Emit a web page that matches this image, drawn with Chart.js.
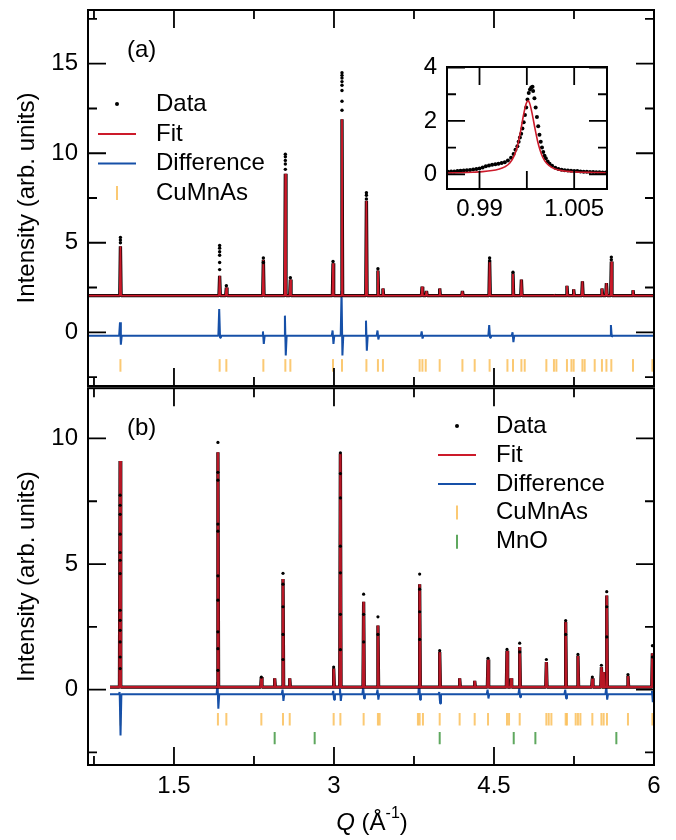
<!DOCTYPE html>
<html>
<head>
<meta charset="utf-8">
<script src="https://cdn.jsdelivr.net/npm/chart.js@4.4.0/dist/chart.umd.min.js"></script>
<style>
  body { margin: 0; background: #fff; width: 676px; height: 840px; position: relative; overflow: hidden; }
  canvas { position: absolute; }
</style>
</head>
<body>
<canvas id="chartA" width="676" height="395" style="left:0;top:0"></canvas>
<canvas id="chartB" width="676" height="460" style="left:0;top:380px"></canvas>
<canvas id="inset" width="212" height="184" style="left:400px;top:40px"></canvas>
<script>
// ---------- panel (a) ----------
const peakQA   = [0.998, 1.928, 1.991, 2.338, 2.544, 2.591, 2.991, 3.075, 3.304, 3.412, 3.459, 3.826, 3.867, 3.991, 4.204, 4.459, 4.678, 4.757, 5.062, 5.184, 5.247, 5.329, 5.512, 5.554, 5.600, 5.803];
const fitTopA  = [4.8, 3.15, 2.5, 4.05, 8.85, 2.95, 3.85, 11.9, 7.35, 3.45, 2.45, 2.55, 2.3, 2.45, 2.3, 4.0, 3.3, 2.95, 2.1, 2.6, 2.4, 2.85, 2.45, 2.75, 3.95, 2.35];
const dotQA = [0.998, 0.998, 0.998, 1.928, 1.928, 1.928, 1.928, 1.928, 1.928, 1.991, 2.338, 2.338,
               2.544, 2.544, 2.544, 2.544, 2.544, 2.591, 2.991,
               3.075, 3.075, 3.075, 3.075, 3.075, 3.075, 3.075, 3.075,
               3.304, 3.304, 3.304, 3.412, 4.459, 4.459, 4.678, 5.600, 5.600];
const dotIA = [5.3, 5.15, 5.0, 4.85, 4.7, 4.5, 4.3, 3.9, 3.5, 2.6, 4.15, 3.9,
               9.95, 9.8, 9.6, 9.4, 9.1, 3.05, 3.95,
               14.5, 14.35, 14.2, 14.0, 13.8, 13.5, 12.9, 12.4,
               7.8, 7.65, 7.45, 3.55, 4.15, 4.0, 3.35, 4.2, 4.05];
const diffQA    = [0.998, 1.928, 2.338, 2.544, 2.991, 3.075, 3.304, 3.412, 3.826, 4.459, 4.678, 5.600];
const diffUpA   = [0.56, 1.3, 0.05, 0.93, 0.1, 2.32, 0.65, 0.1, 0.05, 0.4, 0.0, 0.4];
const diffDownA = [-0.69, -0.3, -0.65, -1.3, -0.65, -1.3, -1.03, -0.4, -0.35, -0.3, -0.55, -0.25];
const braggA = [0.998, 1.928, 1.991, 2.338, 2.544, 2.591, 2.991, 3.075, 3.304, 3.412, 3.459, 3.803, 3.829, 3.860, 3.991,
                4.204, 4.319, 4.459, 4.626, 4.678, 4.757, 4.788, 4.991, 5.062, 5.085, 5.184, 5.226, 5.247, 5.329,
                5.350, 5.444, 5.512, 5.554, 5.600, 5.803, 5.985];
const yTicksA = [0, 5, 10, 15];

// ---------- panel (b) ----------
const peakQB  = [0.995, 1.912, 2.319, 2.444, 2.522, 2.585, 2.997, 3.060, 3.278, 3.412, 3.803, 3.991, 4.178, 4.319, 4.444, 4.622, 4.660, 4.741, 4.991, 5.172, 5.287, 5.422, 5.507, 5.528, 5.557, 5.756, 5.985];
const fitTopB = [9.1, 9.45, 0.5, 0.45, 4.4, 0.45, 0.85, 9.4, 3.5, 2.55, 4.2, 1.5, 0.45, 0.35, 1.2, 1.55, 0.45, 1.7, 1.1, 2.7, 1.35, 0.45, 0.9, 0.7, 3.75, 0.55, 1.45];
const dotQB = [0.995, 0.995, 0.995, 0.995, 0.995, 0.995, 0.995, 0.995, 0.995, 0.995, 0.995, 0.995, 0.995,
               1.912, 1.912, 1.912, 1.912, 1.912, 1.912, 1.912, 1.912, 1.912, 1.912,
               3.060, 3.060, 3.060, 3.060, 3.060, 3.060, 3.060,
               2.522, 2.522, 2.522, 2.522, 2.522, 3.803, 3.803, 3.803, 3.803,
               5.557, 5.557, 5.557, 3.278, 3.278, 3.278,
               2.319, 2.997, 3.412, 3.412, 3.991, 4.444, 4.622, 4.741, 4.741, 4.991, 5.172, 5.172, 5.287, 5.422, 5.507, 5.756, 5.985, 5.985];
const dotIB = [7.74, 7.34, 6.98, 6.19, 5.46, 5.15, 4.62, 3.16, 2.76, 2.36, 1.9, 1.3, 0.84,
               9.84, 8.65, 8.34, 6.59, 6.31, 4.53, 3.56, 2.3, 1.63, 0.77,
               9.43, 8.6, 7.63, 5.71, 4.65, 3.0, 1.59,
               4.63, 4.2, 3.3, 2.2, 1.2, 4.6, 4.0, 3.1, 2.0,
               3.9, 3.3, 2.1, 3.8, 3.0, 1.9,
               0.5, 0.9, 2.9, 2.2, 1.55, 1.25, 1.6, 1.85, 1.5, 1.2, 2.75, 2.2, 1.4, 0.5, 0.97, 0.6, 1.75, 1.3];
const diffQB    = [0.995, 1.912, 2.522, 2.997, 3.060, 3.278, 3.412, 3.803, 3.991, 4.444, 4.741, 5.172, 5.557, 5.985];
const diffUpB   = [-0.1, 0.3, 0.0, -0.05, 0.05, 0.1, 0.0, 0.4, -0.1, 0.0, 0.05, 0.0, 0.15, -0.05];
const diffDownB = [-1.82, -0.76, -0.45, -0.4, -0.45, -0.35, -0.4, -0.4, -0.55, -0.35, -0.3, -0.35, -0.4, -0.5];
const braggB = [0.998, 1.912, 1.991, 2.319, 2.522, 2.585, 2.997, 3.060, 3.278, 3.412, 3.428, 3.787, 3.803, 3.834, 3.991,
                4.178, 4.319, 4.444, 4.622, 4.641, 4.741, 4.991, 5.013, 5.038, 5.172, 5.184, 5.266, 5.287, 5.310,
                5.422, 5.507, 5.528, 5.559, 5.756, 5.985];
const braggMnO = [2.444, 2.819, 3.991, 4.685, 4.888, 5.647];
const yTicksB = [0, 5, 10];
const xTicks = [1.5, 3, 4.5, 6];

// ---------- inset ----------
const insetDataQ = [0.9850, 0.9855, 0.9860, 0.9865, 0.9870, 0.9875, 0.9880, 0.9885, 0.9890, 0.9895, 0.9900, 0.9905,
  0.9910, 0.9915, 0.9920, 0.9925, 0.9930, 0.9935, 0.9940, 0.9945, 0.9950, 0.9954, 0.9957, 0.9960, 0.9962, 0.9964,
  0.9966, 0.9968, 0.9970, 0.9972, 0.9974, 0.9976, 0.9978, 0.9980, 0.9982, 0.9984, 0.9985, 0.9987, 0.9989, 0.9991,
  0.9993, 0.9995, 0.9997, 0.9999, 1.0001, 1.0003, 1.0005, 1.0008, 1.0011, 1.0015, 1.0020, 1.0025, 1.0030, 1.0035,
  1.0040, 1.0045, 1.0050, 1.0055, 1.0060, 1.0065, 1.0070, 1.0075, 1.0080, 1.0085, 1.0090, 1.0095, 1.0100];
const insetDataI = [0.10, 0.11, 0.11, 0.12, 0.13, 0.14, 0.15, 0.16, 0.18, 0.20, 0.22, 0.26,
  0.30, 0.33, 0.36, 0.38, 0.40, 0.42, 0.45, 0.52, 0.62, 0.76, 0.92, 1.05, 1.22, 1.38,
  1.52, 1.72, 1.95, 2.22, 2.50, 2.80, 3.05, 3.18, 3.25, 3.28, 3.12, 2.85, 2.50, 2.15,
  1.80, 1.48, 1.22, 1.00, 0.84, 0.70, 0.60, 0.48, 0.40, 0.32, 0.25, 0.20, 0.17, 0.15,
  0.14, 0.13, 0.12, 0.12, 0.11, 0.10, 0.10, 0.09, 0.09, 0.08, 0.08, 0.07, 0.07];
const insetFitQ = [0.9850, 0.9870, 0.9890, 0.9905, 0.9920, 0.9930, 0.9940, 0.9948, 0.9955, 0.9960, 0.9965, 0.9970,
  0.9974, 0.9977, 0.9980, 0.9984, 0.9988, 0.9992, 0.9996, 1.0000, 1.0006, 1.0015, 1.0025, 1.0040, 1.0060, 1.0080, 1.0100];
const insetFitI = [0.05, 0.06, 0.08, 0.10, 0.14, 0.19, 0.28, 0.42, 0.70, 1.05, 1.60, 2.25,
  2.65, 2.75, 2.62, 2.20, 1.70, 1.25, 0.90, 0.65, 0.42, 0.25, 0.16, 0.11, 0.08, 0.07, 0.06];

const FONT = "'Liberation Sans', Arial, Helvetica, sans-serif";
const RED = '#cc1a2a';
const BLUE = '#1650a8';
const ORANGE = 'rgba(250, 188, 80, 0.8)';
const GREEN = '#5fa85f';
const X_MIN = 0.694, X_MAX = 6.0;

Chart.defaults.font.family = FONT;
Chart.defaults.font.size = 24;
Chart.defaults.color = '#000';

function peakLine(qs, tops, base, hw, q0, q1) {
  const pts = [{ x: q0, y: base }, { x: q1, y: base }];
  qs.forEach((q, i) => pts.push({ x: q - hw, y: base }, { x: q, y: tops[i] }, { x: q + hw, y: base }));
  return pts.sort((a, b) => a.x - b.x);
}

function diffLine(qs, ups, downs, base, hw, q0, q1) {
  const pts = [{ x: q0, y: base }, { x: q1, y: base }];
  qs.forEach((q, i) => pts.push(
    { x: q - hw, y: base }, { x: q - hw / 3, y: ups[i] },
    { x: q + hw / 3, y: downs[i] }, { x: q + hw, y: base }));
  return pts.sort((a, b) => a.x - b.x);
}

const pairs = (xs, ys) => xs.map((x, i) => ({ x: x, y: ys[i] }));
const level = (xs, y) => xs.map(x => ({ x: x, y: y }));

const framePlugin = {
  id: 'frame',
  beforeDatasetsDraw(chart, args, o) {
    if (!o.fill) return;
    const a = chart.chartArea;
    chart.ctx.save();
    chart.ctx.fillStyle = o.fill;
    chart.ctx.fillRect(a.left, a.top, a.right - a.left, a.bottom - a.top);
    chart.ctx.restore();
  },
  afterDatasetsDraw(chart, args, o) {
    const { ctx, chartArea: a, scales: { x, y } } = chart;
    ctx.save();
    ctx.strokeStyle = '#000';
    ctx.lineWidth = 2;
    ctx.strokeRect(a.left, a.top, a.right - a.left, a.bottom - a.top);
    ctx.lineWidth = 1.8;
    ctx.beginPath();
    const xt = (vals, len) => vals.forEach(v => {
      const p = x.getPixelForValue(v);
      ctx.moveTo(p, a.top); ctx.lineTo(p, a.top + len);
      ctx.moveTo(p, a.bottom); ctx.lineTo(p, a.bottom - len);
    });
    const yt = (vals, len) => vals.forEach(v => {
      const p = y.getPixelForValue(v);
      ctx.moveTo(a.left, p); ctx.lineTo(a.left + len, p);
      ctx.moveTo(a.right, p); ctx.lineTo(a.right - len, p);
    });
    xt(o.xMajor, 18); xt(o.xMinor || [], 9);
    yt(o.yMajor, 18); yt(o.yMinor || [], 9);
    ctx.stroke();
    ctx.restore();
  }
};

const annotate = {
  id: 'annotate',
  afterDraw(chart, args, o) {
    const ctx = chart.ctx;
    ctx.save();
    ctx.textBaseline = 'middle';
    (o.texts || []).forEach(t => {
      let w = 0;
      t.runs.forEach(r => { ctx.font = r.font; w += ctx.measureText(r.text).width; });
      let x = t.center ? t.x - w / 2 : t.x;
      t.runs.forEach(r => {
        ctx.font = r.font;
        ctx.fillStyle = '#000';
        ctx.fillText(r.text, x, t.y + (r.dy || 0));
        x += ctx.measureText(r.text).width;
      });
    });
    const L = o.legend;
    if (L) {
      L.items.forEach((it, i) => {
        const y = L.rows[i];
        ctx.strokeStyle = it.color;
        ctx.fillStyle = it.color;
        ctx.lineWidth = 2;
        ctx.beginPath();
        if (it.kind === 'dot') {
          ctx.arc(L.symX, y, 2, 0, 2 * Math.PI);
          ctx.fill();
        } else if (it.kind === 'line') {
          ctx.moveTo(L.symX - 19, y); ctx.lineTo(L.symX + 19, y);
          ctx.stroke();
        } else {
          ctx.moveTo(L.symX, y - 7); ctx.lineTo(L.symX, y + 7);
          ctx.stroke();
        }
        ctx.fillStyle = '#000';
        ctx.font = '24px ' + FONT;
        ctx.fillText(it.label, L.textX, y);
      });
    }
    ctx.restore();
  }
};

// fixed axis box, no extra label padding pushed into the layout
function fixBox(w, h) {
  return s => {
    if (w) s.width = w;
    if (h) s.height = h;
    s.paddingTop = 0; s.paddingBottom = 0;
    s.paddingLeft = 0; s.paddingRight = 0;
  };
}

function yAxis(min, max, ticks) {
  return {
    min: min, max: max,
    afterFit: fixBox(88, 0),
    afterBuildTicks: s => { s.ticks = ticks.map(v => ({ value: v })); },
    grid: { display: false, drawTicks: false },
    border: { display: false },
    ticks: { padding: 10, font: { size: 24 } },
    title: { display: true, text: 'Intensity (arb. units)', font: { size: 24 }, padding: { top: 13, bottom: 0 } }
  };
}

const common = { responsive: false, animation: false, devicePixelRatio: 1, events: [] };
const legendItems = [
  { kind: 'dot', color: '#000', label: 'Data' },
  { kind: 'line', color: RED, label: 'Fit' },
  { kind: 'line', color: BLUE, label: 'Difference' },
  { kind: 'tick', color: ORANGE, label: 'CuMnAs' },
  { kind: 'tick', color: GREEN, label: 'MnO' }
];
const lineStyle = { pointRadius: 0, borderJoinStyle: 'bevel' };

// panel (a)
const fitA = peakLine(peakQA, fitTopA, 2.05, 0.006, X_MIN, X_MAX);
new Chart(document.getElementById('chartA'), {
  type: 'line',
  data: {
    datasets: [
      { label: 'Data', data: pairs(dotQA, dotIA), showLine: false, pointRadius: 1.7, pointBorderWidth: 0, pointBackgroundColor: '#000', order: 0 },
      Object.assign({ label: 'Fit', data: fitA, borderColor: RED, borderWidth: 1.8, order: 1 }, lineStyle),
      Object.assign({ label: 'Data trace', data: fitA, borderColor: '#000', borderWidth: 3.3, order: 2 }, lineStyle),
      Object.assign({ label: 'Difference', data: diffLine(diffQA, diffUpA, diffDownA, -0.2, 0.012, X_MIN, X_MAX), borderColor: BLUE, borderWidth: 2, order: 3 }, lineStyle),
      { label: 'CuMnAs', data: level(braggA, -1.85), showLine: false, pointStyle: 'line', pointRotation: 90, pointRadius: 6.3, pointBorderColor: ORANGE, pointBorderWidth: 2, order: 4 }
    ]
  },
  options: Object.assign({}, common, {
    layout: { padding: { top: 10, right: 22, bottom: 9, left: 0 } },
    scales: {
      x: { type: 'linear', display: false, min: X_MIN, max: X_MAX },
      y: yAxis(-3, 18, yTicksA)
    },
    plugins: {
      legend: { display: false }, tooltip: { enabled: false },
      frame: { xMajor: xTicks, xMinor: [0.75, 2.25, 3.75, 5.25], yMajor: [0, 5, 10, 15], yMinor: [-2.5, 2.5, 7.5, 12.5, 17.5] },
      annotate: {
        texts: [{ x: 127, y: 50, runs: [{ text: '(a)', font: '24px ' + FONT }] }],
        legend: { symX: 117, textX: 156, rows: [104, 134, 163.5, 193], items: legendItems.slice(0, 4) }
      }
    }
  }),
  plugins: [framePlugin, annotate]
});

// panel (b)
const fitB = peakLine(peakQB, fitTopB, 0.1, 0.006, 0.9, X_MAX);
new Chart(document.getElementById('chartB'), {
  type: 'line',
  data: {
    datasets: [
      { label: 'Data', data: pairs(dotQB, dotIB), showLine: false, pointRadius: 1.6, pointBorderWidth: 0, pointBackgroundColor: '#000', order: 0 },
      Object.assign({ label: 'Fit', data: fitB, borderColor: 'rgba(204,26,42,0.9)', borderWidth: 2.4, order: 1 }, lineStyle),
      Object.assign({ label: 'Data trace', data: fitB, borderColor: '#000', borderWidth: 3.3, order: 2 }, lineStyle),
      Object.assign({ label: 'Difference', data: diffLine(diffQB, diffUpB, diffDownB, -0.18, 0.012, 0.9, X_MAX), borderColor: BLUE, borderWidth: 2, order: 3 }, lineStyle),
      { label: 'CuMnAs', data: level(braggB, -1.18), showLine: false, pointStyle: 'line', pointRotation: 90, pointRadius: 6.2, pointBorderColor: ORANGE, pointBorderWidth: 2, order: 4 },
      { label: 'MnO', data: level(braggMnO, -1.93), showLine: false, pointStyle: 'line', pointRotation: 90, pointRadius: 6.2, pointBorderColor: GREEN, pointBorderWidth: 2, order: 5 }
    ]
  },
  options: Object.assign({}, common, {
    layout: { padding: { top: 7, right: 22, bottom: 0, left: 0 } },
    scales: {
      x: {
        type: 'linear', min: X_MIN, max: X_MAX,
        afterFit: fixBox(0, 75),
        afterBuildTicks: s => { s.ticks = xTicks.map(v => ({ value: v })); },
        grid: { display: false, drawTicks: false },
        border: { display: false },
        ticks: { padding: 7, maxRotation: 0, font: { size: 24 }, callback: v => String(v) }
      },
      y: yAxis(-3, 12, yTicksB)
    },
    plugins: {
      legend: { display: false }, tooltip: { enabled: false },
      frame: { xMajor: xTicks, xMinor: [0.75, 2.25, 3.75, 5.25], yMajor: [0, 5, 10], yMinor: [-2.5, 2.5, 7.5] },
      annotate: {
        texts: [
          { x: 127, y: 48, runs: [{ text: '(b)', font: '24px ' + FONT }] },
          { x: 372, y: 443, center: true, runs: [
            { text: 'Q', font: 'italic 24px ' + FONT },
            { text: ' (Å', font: '24px ' + FONT },
            { text: '-1', font: '16px ' + FONT, dy: -9 },
            { text: ')', font: '24px ' + FONT }
          ] }
        ],
        legend: { symX: 457, textX: 496, rows: [46, 75, 104, 132.5, 161.7], items: legendItems }
      }
    }
  }),
  plugins: [framePlugin, annotate]
});

// inset of panel (a)
new Chart(document.getElementById('inset'), {
  type: 'line',
  data: {
    datasets: [
      { label: 'Data', data: pairs(insetDataQ, insetDataI), showLine: false, pointRadius: 2, pointBorderWidth: 0, pointBackgroundColor: '#000', order: 1 },
      { label: 'Fit', data: pairs(insetFitQ, insetFitI), borderColor: RED, borderWidth: 1.6, pointRadius: 0, cubicInterpolationMode: 'monotone', order: 0 }
    ]
  },
  options: Object.assign({}, common, {
    layout: { padding: { top: 27, right: 5, bottom: 0, left: 0 } },
    scales: {
      x: {
        type: 'linear', min: 0.98485, max: 1.0102,
        afterFit: fixBox(0, 35),
        afterBuildTicks: s => { s.ticks = [0.99, 1.005].map(v => ({ value: v })); },
        grid: { display: false, drawTicks: false },
        border: { display: false },
        ticks: { padding: 6, maxRotation: 0, font: { size: 24 }, callback: v => String(v) }
      },
      y: {
        min: -0.55, max: 4.02,
        afterFit: fixBox(47, 0),
        afterBuildTicks: s => { s.ticks = [0, 2, 4].map(v => ({ value: v })); },
        grid: { display: false, drawTicks: false },
        border: { display: false },
        ticks: { padding: 10, font: { size: 24 } }
      }
    },
    plugins: {
      legend: { display: false }, tooltip: { enabled: false },
      frame: { fill: '#fff', xMajor: [0.99, 0.9975, 1.005], yMajor: [0, 2, 4], yMinor: [1, 3] }
    }
  }),
  plugins: [framePlugin]
});
</script>
</body>
</html>
